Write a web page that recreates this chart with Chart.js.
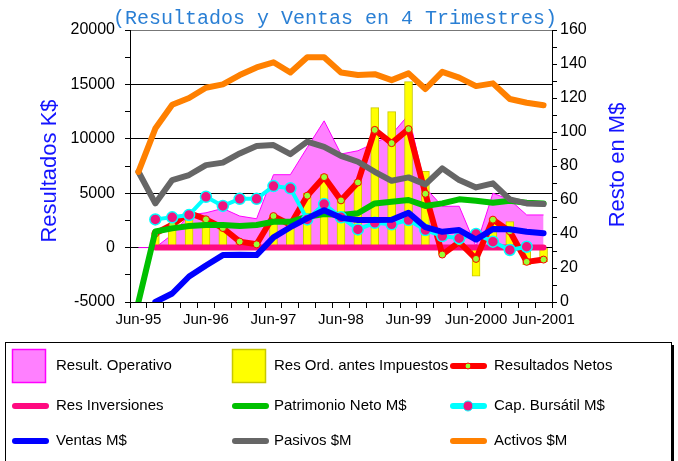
<!DOCTYPE html>
<html>
<head>
<meta charset="utf-8">
<script src="https://cdn.jsdelivr.net/npm/chart.js@4"></script>
<style>
html, body { margin: 0; padding: 0; background: #fff; }
#wrap { position: relative; width: 678px; height: 461px; }
</style>
</head>
<body>
<div id="wrap"><canvas id="chart" width="678" height="461"></canvas></div>
<script>
// quarters, Jun-95 .. Jun-2001
const quarters = ['Jun-95', 'Sep-95', 'Dic-95', 'Mar-96', 'Jun-96', 'Sep-96', 'Dic-96', 'Mar-97',
    'Jun-97', 'Sep-97', 'Dic-97', 'Mar-98', 'Jun-98', 'Sep-98', 'Dic-98', 'Mar-99',
    'Jun-99', 'Sep-99', 'Dic-99', 'Mar-2000', 'Jun-2000', 'Sep-2000', 'Dic-2000', 'Mar-2001', 'Jun-2001'];

// left axis, K$
const resultOperativo = [0, 0, 1200, 3000, 3200, 3600, 2900, 2650, 6700, 6700, 9200, 11650, 8600,
    8900, 9600, 10400, 12200, 5500, 3800, 3800, 100, 5000, 4400, 3000, 3000];
const resOrdAntesImp = [null, 1200, 2100, 3200, 2600, 1700, 500, 300, 3030, 2260, 5010, 6700, 4560,
    6240, 12870, 12500, 15260, 7000, -600, 700, -2630, 2700, 2400, -1560, -1300];
const resultadosNetos = [null, 1300, 2100, 3180, 2600, 1800, 550, 300, 2900, 2100, 4770, 6480, 4340,
    5990, 10820, 9600, 10890, 4950, -640, 500, -1040, 2570, 1500, -1310, -1100];
const resInversiones = [null, 0, 0, 0, 0, 0, 0, 0, 0, 0, 0, 0, 0, 0, 0, 0, 0, 0, 0, 0, 0, 0, 0, 0, 0];

// right axis, M$
const patrimonioNeto = [0, 41.5, 43.3, 44.7, 45.3, 45.3, 44.7, 45.3, 47.2, 47.2, 50.2, 51.7, 51.2,
    52.2, 58, 59, 60, 56.5, 58, 60.4, 59.6, 58.4, 59.6, 58.4, 58];
const capBursatil = [null, 48.6, 49.8, 51.2, 61.9, 56.5, 60.7, 60.7, 68.2, 66.9, 48.6, 57.6, 49.8,
    42.7, 46.6, 45.7, 48.2, 42.3, 38.8, 37.5, 40, 35.5, 30.6, 32.5, null];
const ventas = [null, 0, 5, 15, 21.5, 27.6, 27.8, 27.6, 38, 44, 49.2, 54, 49.5,
    48.2, 48.2, 48.4, 52.5, 44, 41.3, 42.3, 36.7, 42.9, 42.8, 41.3, 40.4];
const pasivos = [76.6, 58, 71.7, 74.7, 80.5, 82, 87.4, 91.7, 92.3, 87, 94.3, 91.3, 86,
    82.5, 76.6, 71.3, 73.3, 69.2, 78.6, 71.7, 67.4, 69.8, 60.4, 58, 57.6];
const activos = [76.5, 102, 116, 120, 126, 128, 133.5, 138, 141, 135, 144, 144, 135,
    133.5, 134, 130.5, 134.5, 125.3, 135.4, 132, 127, 128.6, 119.4, 117.2, 115.7];

const subtitle = '(Resultados y Ventas en 4 Trimestres)';
const leftTitle = 'Resultados K$';
const rightTitle = 'Resto en M$';

function lineSet(label, data, color, axis, order, extra) {
    return Object.assign({
        type: 'line', label: label, data: data, yAxisID: axis, order: order,
        borderColor: color, backgroundColor: color, borderWidth: 6,
        borderJoinStyle: 'round', borderCapStyle: 'round',
        pointRadius: 0, fill: false, tension: 0, swatch: 'line'
    }, extra || {});
}

const datasets = [
    { type: 'line', label: 'Result. Operativo', data: resultOperativo, yAxisID: 'y', order: 9,
      fill: 'origin', backgroundColor: '#ff80ff', borderColor: '#ff00ff', borderWidth: 1,
      pointRadius: 0, tension: 0, swatch: 'box' },
    { type: 'bar', label: 'Res Ord. antes Impuestos', data: resOrdAntesImp, yAxisID: 'y', order: 8,
      backgroundColor: '#ffff00', borderColor: '#c8c800', borderWidth: 1, barThickness: 8,
      swatch: 'box' },
    lineSet('Resultados Netos', resultadosNetos, '#ff0000', 'y', 6,
      { pointRadius: 3.5, pointBackgroundColor: '#99ff33', pointBorderColor: '#ff0000', pointBorderWidth: 1 }),
    lineSet('Res Inversiones', resInversiones, '#ff0a80', 'y', 7),
    lineSet('Patrimonio Neto M$', patrimonioNeto, '#00c000', 'y1', 5),
    lineSet('Cap. Bursátil M$', capBursatil, '#00ffff', 'y1', 4,
      { borderWidth: 4, pointRadius: 5.5, pointBackgroundColor: '#f0147f', pointBorderColor: '#00ffff', pointBorderWidth: 1.5 }),
    lineSet('Ventas M$', ventas, '#0000ff', 'y1', 3),
    lineSet('Pasivos $M', pasivos, '#666666', 'y1', 2),
    lineSet('Activos $M', activos, '#ff8000', 'y1', 1)
];

const decor = {
    id: 'decor',
    afterDraw(chart) {
        const c = chart.ctx;
        c.save();
        c.textBaseline = 'middle';

        c.fillStyle = '#2a7fd4';
        c.font = '20px "Liberation Mono", "Courier New", monospace';
        c.textAlign = 'center';
        c.fillText(subtitle, 335, 19);

        c.fillStyle = '#1414ff';
        c.font = '22px "Liberation Sans", Arial, sans-serif';
        c.save(); c.translate(50, 171); c.rotate(-Math.PI / 2); c.fillText(leftTitle, 0, 0); c.restore();
        c.save(); c.translate(618, 165); c.rotate(-Math.PI / 2); c.fillText(rightTitle, 0, 0); c.restore();

        // legend box
        c.strokeStyle = '#000';
        c.lineWidth = 1;
        c.strokeRect(5.5, 342.5, 666, 140);
        c.fillStyle = '#000';
        c.fillRect(671, 345, 3, 120);

        const colX = [12, 232, 450];
        const textX = [56, 274, 494];
        const rowY = [366, 406, 441];
        c.font = '15px "Liberation Sans", Arial, sans-serif';
        c.textAlign = 'left';
        chart.data.datasets.forEach((ds, i) => {
            const col = i % 3, row = Math.floor(i / 3);
            const x = colX[col], y = rowY[row];
            if (ds.swatch === 'box') {
                c.fillStyle = ds.backgroundColor;
                c.fillRect(x, y - 17, 34, 34);
                c.strokeStyle = ds.borderColor;
                c.lineWidth = 1.5;
                c.strokeRect(x + 0.5, y - 16.5, 33, 33);
            } else {
                c.strokeStyle = ds.borderColor;
                c.lineWidth = 6;
                c.lineCap = 'round';
                c.beginPath(); c.moveTo(x + 3, y); c.lineTo(x + 34, y); c.stroke();
                if (ds.pointRadius) {
                    c.fillStyle = ds.pointBackgroundColor;
                    c.strokeStyle = ds.pointBorderColor;
                    c.lineWidth = 1;
                    c.beginPath(); c.arc(x + 18, y, ds.pointRadius - 0.5, 0, Math.PI * 2); c.fill(); c.stroke();
                }
            }
            c.fillStyle = '#000';
            c.fillText(ds.label, textX[col], y);
        });
        c.restore();
    }
};

new Chart(document.getElementById('chart'), {
    data: { labels: quarters, datasets: datasets },
    options: {
        responsive: false,
        animation: false,
        layout: { padding: { top: 30, left: 0, right: 0, bottom: 0 } },
        plugins: { legend: { display: false }, title: { display: false }, tooltip: { enabled: false } },
        scales: {
            x: {
                type: 'category',
                offset: true,
                afterFit: s => { s.height = 159; },
                grid: { offset: true, drawOnChartArea: false, tickLength: 6, color: '#000' },
                border: { color: '#000', width: 1 },
                ticks: {
                    autoSkip: false, maxRotation: 0, padding: 3, color: '#000',
                    font: { family: '"Liberation Sans", Arial, sans-serif', size: 15 },
                    callback: (v, i) => (i % 4 === 0 ? quarters[i] : '')
                }
            },
            y: {
                position: 'left',
                min: -5000, max: 20000,
                afterFit: s => { s.width = 130; },
                grid: {
                    tickLength: 5, tickColor: '#000',
                    color: ctx => {
                        const v = ctx.tick.value;
                        if (v === 20000) return '#777';
                        return v % 5000 === 0 ? '#000' : 'rgba(0,0,0,0)';
                    }
                },
                border: { color: '#000', width: 1 },
                ticks: {
                    stepSize: 2500, autoSkip: false, padding: 10, color: '#000',
                    font: { family: '"Liberation Sans", Arial, sans-serif', size: 16 },
                    callback: v => (v % 5000 === 0 ? String(v) : '')
                }
            },
            y1: {
                position: 'right',
                min: 0, max: 160,
                afterFit: s => { s.width = 126; },
                grid: { drawOnChartArea: false, tickLength: 5, color: '#000' },
                border: { color: '#000', width: 1 },
                ticks: {
                    stepSize: 10, autoSkip: false, padding: 3, color: '#000',
                    font: { family: '"Liberation Sans", Arial, sans-serif', size: 16 },
                    callback: v => (v % 20 === 0 ? String(v) : '')
                }
            }
        }
    },
    plugins: [decor]
});
</script>
</body>
</html>
